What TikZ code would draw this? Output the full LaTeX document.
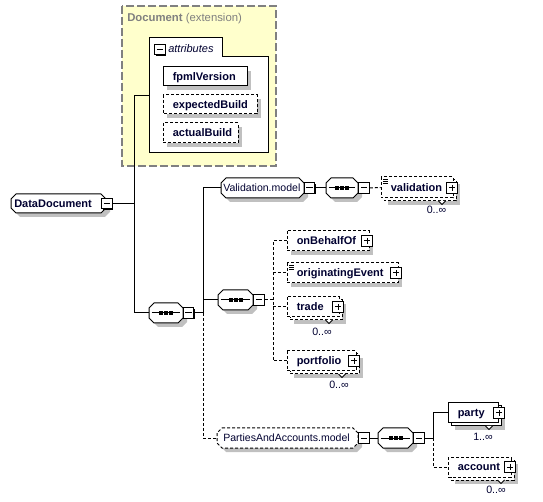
\documentclass[tikz,border=0pt]{standalone}
\usepackage{fontspec}
\setmainfont{Liberation Sans}
\usetikzlibrary{fit,shadows}

\definecolor{txt}{RGB}{0,0,48}
\definecolor{shgray}{RGB}{192,192,192}
\definecolor{docyellow}{RGB}{255,255,204}
\definecolor{docgray}{RGB}{128,128,128}

\tikzset{
 ln/.style={line width=0.75pt},
 dsh/.style={dash pattern=on 2.25pt off 1.5pt},
 bx/.style={draw=black, fill=white, line width=0.75pt},
 shc/.style={fill=shgray},
 lbl/.style={font=\bfseries\fontsize{8.25}{10}\selectfont, text=txt, inner sep=0pt, anchor=west, text height=6pt, text depth=0.6pt},
 lbln/.style={font=\fontsize{7.9}{10}\selectfont, text=txt, inner sep=0pt, anchor=west, text height=6pt, text depth=0.6pt},
 mult/.style={font=\fontsize{8}{10}\selectfont, text=txt, inner sep=0pt},
 fitn/.style={inner sep=0pt},
 pmb/.style={draw=black, fill=white, line width=0.75pt, minimum size=7.9pt, inner sep=0pt,
   drop shadow={shadow xshift=0.75pt, shadow yshift=-0.75pt, fill=black, opacity=1}},
 minusb/.style={pmb, path picture={\draw[line width=0.75pt] ([xshift=1.6pt]path picture bounding box.west) -- ([xshift=-1.6pt]path picture bounding box.east);}},
 plusb/.style={pmb, path picture={\draw[line width=0.75pt] ([xshift=1.6pt]path picture bounding box.west) -- ([xshift=-1.6pt]path picture bounding box.east) ([yshift=-1.6pt]path picture bounding box.north) -- ([yshift=1.6pt]path picture bounding box.south);}},
}

\newcommand\octp[5]{(#1+#5,#2) -- (#3-#5,#2) -- (#3,#2+#5) -- (#3,#4-#5) -- (#3-#5,#4) -- (#1+#5,#4) -- (#1,#4-#5) -- (#1,#2+#5) -- cycle}
\newcommand\oct[6]{%
 \fill[shc,shift={(4,4)}] \octp{#2}{#3}{#4}{#5}{5};
 \draw[bx,#6] \octp{#2}{#3}{#4}{#5}{5};
 \node[fitn,fit={(#2,#3)(#4,#5)}] (#1) {};
}
\newcommand\seqsym[1]{%
 \draw[ln] ([xshift=2.25pt]#1.west) -- ([xshift=-2.25pt]#1.east);
 \fill[black] ([xshift=-5.25pt,yshift=-1.2pt]#1.center) rectangle ([xshift=-2.25pt,yshift=1.2pt]#1.center);
 \fill[black] ([xshift=-1.5pt,yshift=-1.2pt]#1.center) rectangle ([xshift=1.5pt,yshift=1.2pt]#1.center);
 \fill[black] ([xshift=2.25pt,yshift=-1.2pt]#1.center) rectangle ([xshift=5.25pt,yshift=1.2pt]#1.center);
}
\newcommand\elm[7]{%
 \fill[shc,shift={(4,4)}] (#2,#3) rectangle (#4,#5);
 \draw[bx,#6] (#2,#3) rectangle (#4,#5);
 \node[fitn,fit={(#2,#3)(#4,#5)}] (#1) {};
 \node[lbl] (#1-t) at (#2+9.5,{(#3+#5)/2}) {#7};
}
\newcommand\elms[7]{%
 \fill[shc,shift={(7,7)}] (#2,#3) rectangle (#4,#5);
 \draw[bx,#6,shift={(3,3)}] (#2,#3) rectangle (#4,#5);
 \draw[bx,#6] (#2,#3) rectangle (#4,#5);
 \node[fitn,fit={(#2,#3)(#4,#5)}] (#1) {};
 \node[lbl] (#1-t) at (#2+9.5,{(#3+#5)/2}) {#7};
}
\newcommand\tri[2]{\draw[ln,fill=white] (#1-3.5,#2) -- (#1,#2+3.5) -- (#1+3.5,#2);}
\newcommand\icon[2]{\draw[line width=0.6pt] (#1+2,#2+2.5) -- (#1+7,#2+2.5) (#1+2,#2+4.5) -- (#1+7,#2+4.5) (#1+2,#2+6.5) -- (#1+7,#2+6.5);}

\begin{document}
\begin{tikzpicture}[x=0.75pt,y=-0.75pt]
\useasboundingbox (0,0) rectangle (543,502);

% Document (extension) box
\draw[fill=docyellow, draw=docgray, line width=1.5pt, dash pattern=on 6pt off 2.25pt] (122,6) rectangle (276,166);
\node[anchor=west, inner sep=0pt, text=docgray, font=\fontsize{8.5}{10}\selectfont] (doclbl) at (127,19) {\textbf{Document} (extension)};

% attributes group
\draw[bx] (149,153) -- (149,38) -- (222,38) -- (222,57) -- (268,57) -- (268,153) -- cycle;
\node[minusb] (attrM) at (160,49.5) {};
\node[lbln, font=\itshape\fontsize{8.25}{10}\selectfont] (attrlbl) at (168,48.5) {attributes};
\coordinate (attrIn) at (149,96);

\elm{fpml}{163}{67}{247}{86}{}{fpmlVersion}
\elm{expb}{163}{95}{257}{114}{dsh}{expectedBuild}
\elm{actb}{163}{123}{238}{143}{dsh}{actualBuild}

% DataDocument
\oct{dd}{11}{194}{106}{213}{}
\node[lbl] (dd-t) at (14,203.5) {DataDocument};
\node[minusb] (ddM) at (107,203.5) {};

% main sequence
\oct{seq1}{149}{303}{183}{323}{}
\seqsym{seq1}
\node[minusb] (seq1M) at (188.5,313) {};

% Validation.model
\oct{valm}{221}{178}{304}{198}{}
\node[lbln] (valm-t) at (223,188) {Validation.model};
\node[minusb] (valmM) at (309.5,188) {};
\oct{seqv}{326}{178}{358}{198}{}
\seqsym{seqv}
\node[minusb] (seqvM) at (364,188) {};
\elms{validation}{381}{177}{453}{198}{dsh}{validation}
\icon{381}{177}
\node[plusb] (validationP) at (452,188) {};
\tri{442}{201}
\node[mult] (validationM) at (436.5,210) {0..∞};

% middle sequence
\oct{seqm}{218}{290}{253}{310}{}
\seqsym{seqm}
\node[minusb] (seqmM) at (259,300) {};
\elm{onbehalf}{287}{231}{369}{251}{dsh}{onBehalfOf}
\node[plusb] (onbehalfP) at (367,241) {};
\elm{origev}{287}{263}{398}{283}{dsh}{originatingEvent}
\icon{287}{263}
\node[plusb] (origevP) at (396,273) {};
\elms{trade}{287}{297}{339}{317}{dsh}{trade}
\node[plusb] (tradeP) at (338,307) {};
\tri{329}{320}
\node[mult] (tradeM) at (322,332) {0..∞};
\elms{portfolio}{287}{351}{356}{371}{dsh}{portfolio}
\node[plusb] (portfolioP) at (354,361) {};
\tri{342}{374}
\node[mult] (portfolioM) at (339,385) {0..∞};

% PartiesAndAccounts.model
\oct{pam}{217}{428}{358}{448}{dsh}
\node[lbln] (pam-t) at (223,438) {PartiesAndAccounts.model};
\node[minusb] (pamM) at (364,438) {};
\oct{seqp}{378}{428}{413}{448}{}
\seqsym{seqp}
\node[minusb] (seqpM) at (419,438) {};
\elms{party}{448}{403}{498}{423}{}{party}
\node[plusb] (partyP) at (499,413) {};
\tri{489}{426}
\node[mult] (partyM) at (483,437) {1..∞};
\elms{account}{448}{457}{511}{477}{dsh}{account}
\node[plusb] (accountP) at (510,467) {};
\tri{501}{480}
\node[mult] (accountM) at (496,490) {0..∞};

% connectors
\coordinate (j1) at (134,203.5);
\draw[ln] (ddM.east) -- (j1);
\draw[ln] (attrIn) -| (j1);
\draw[ln] (j1) |- (seq1.west);
\coordinate (j2) at (203,313);
\draw[ln] (seq1M.east) -- (j2);
\draw[ln] (j2) |- (valm.west);
\draw[ln] (j2 |- seqm.west) -- (seqm.west);
\draw[ln,dsh] (j2) |- (pam.west);
\draw[ln] (valmM.east) -- (seqv.west);
\draw[ln,dsh] (seqvM.east) -- (validation.west);
\coordinate (j3) at (273,300);
\draw[ln,dsh] (seqmM.east) -- (j3);
\draw[ln,dsh] (onbehalf.west) -| (j3 |- portfolio.west) -- (portfolio.west);
\draw[ln,dsh] (j3 |- origev.west) -- (origev.west);
\draw[ln,dsh] (j3 |- trade.west) -- (trade.west);
\draw[ln] (pamM.east) -- (seqp.west);
\coordinate (j4) at (433,438);
\draw[ln] (seqpM.east) -- (j4) |- (party.west);
\draw[ln,dsh] (j4) |- (account.west);
\end{tikzpicture}
\end{document}
